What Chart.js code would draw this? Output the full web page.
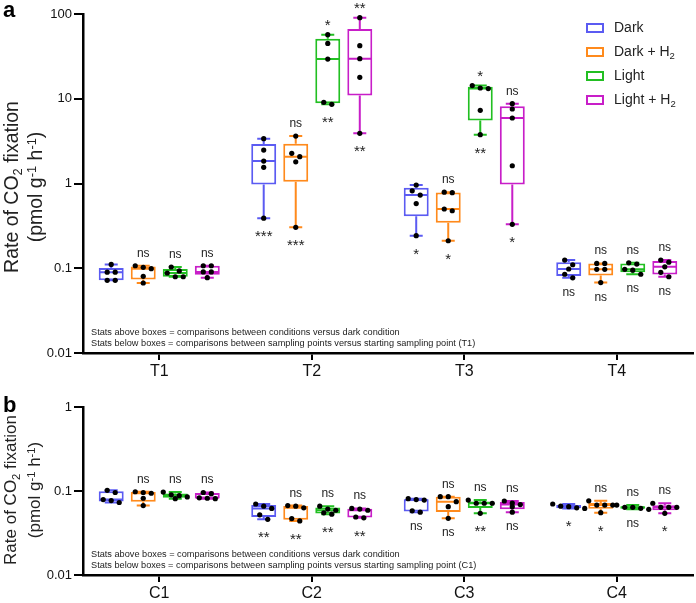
<!DOCTYPE html>
<html><head><meta charset="utf-8">
<script src="https://cdn.jsdelivr.net/npm/chart.js@4/dist/chart.umd.min.js"></script>
<style>
html,body{margin:0;padding:0;background:#fff;width:696px;height:603px;overflow:hidden}
canvas{position:absolute;left:0}
#ca{top:0}#cb{top:380px}
</style></head>
<body>
<canvas id="ca" width="696" height="380"></canvas>
<canvas id="cb" width="696" height="223"></canvas>
<script>
const FONT = "'Liberation Sans', Arial, sans-serif";
const seriesNames = ['Dark', 'Dark + H2', 'Light', 'Light + H2'];
const seriesColors = ['#5b5bf2', '#ff8a1c', '#22bf22', '#c81ec8'];
const timePoints = ['T1', 'T2', 'T3', 'T4'];
const cyclePoints = ['C1', 'C2', 'C3', 'C4'];
const yTicksA = [0.01, 0.1, 1, 10, 100];
const yTicksB = [0.01, 0.1, 1];

// Panel a: individual replicate values per sampling point [T1, T2, T3, T4]
const darkA    = [[0.111,0.090,0.090,0.072,0.072],[3.38,2.48,1.84,1.55,0.39],[0.96,0.82,0.73,0.58,0.242],[0.125,0.110,0.098,0.085,0.077]];
const darkH2A  = [[0.107,0.1025,0.0989,0.0804,0.067],[3.63,2.27,2.07,1.80,0.304],[0.79,0.78,0.50,0.477,0.211],[0.114,0.114,0.097,0.097,0.0677]];
const lightA   = [[0.1035,0.093,0.0879,0.0794,0.0794],[57,45,29.4,9.08,8.6],[14.3,13.4,13.2,7.31,3.77],[0.116,0.112,0.097,0.095,0.085]];
const lightH2A = [[0.107,0.107,0.0904,0.0904,0.0774],[90.4,42.3,29.7,17.9,3.91],[8.75,7.57,5.93,1.62,0.33],[0.125,0.118,0.104,0.0896,0.0794]];

// Panel b: [C1, C2, C3, C4]
const darkB    = [[0.102,0.096,0.079,0.077,0.073],[0.070,0.066,0.062,0.052,0.046],[0.081,0.079,0.078,0.058,0.056],[0.070,0.066,0.065,0.063,0.062]];
const darkH2B  = [[0.098,0.096,0.094,0.082,0.067],[0.067,0.066,0.063,0.047,0.044],[0.0855,0.0855,0.0747,0.065,0.0473],[0.0763,0.068,0.068,0.068,0.0552]];
const lightB   = [[0.097,0.090,0.088,0.085,0.081],[0.066,0.061,0.059,0.055,0.053],[0.078,0.0715,0.0715,0.0715,0.0543],[0.068,0.0639,0.0639,0.0622,0.0605]];
const lightH2B = [[0.096,0.093,0.083,0.082,0.081],[0.062,0.061,0.059,0.049,0.048],[0.076,0.072,0.069,0.065,0.056],[0.0715,0.0639,0.0639,0.0639,0.0543]];

// Significance labels (above: vs dark condition; below: vs starting point)
const aboveA = [['','','',''],['ns','ns','ns','ns'],['ns','*','*','ns'],['ns','**','ns','ns']];
const belowA = [['','***','*','ns'],['','***','*','ns'],['','**','**','ns'],['','**','*','ns']];
const aboveB = [['','','',''],['ns','ns','ns','ns'],['ns','ns','ns','ns'],['ns','ns','ns','ns']];
const belowB = [['','**','ns','*'],['','**','ns','*'],['','**','**','ns'],['','**','ns','*']];

const notesA = ['Stats above boxes = comparisons between conditions versus dark condition',
                'Stats below boxes = comparisons between sampling points versus starting sampling point (T1)'];
const notesB = ['Stats above boxes = comparisons between conditions versus dark condition',
                'Stats below boxes = comparisons between sampling points versus starting sampling point (C1)'];

function quant(s, p) {
  const n = s.length, pos = (n + 1) * p;
  if (pos <= 1) return s[0];
  if (pos >= n) return s[n - 1];
  const lo = Math.floor(pos), f = pos - lo;
  return s[lo - 1] + f * (s[lo] - s[lo - 1]);
}
function boxStats(pts) {
  const s = [...pts].sort((a, b) => a - b);
  return { min: s[0], max: s[s.length - 1], q1: quant(s, 0.25), med: quant(s, 0.5), q3: quant(s, 0.75), pts: s };
}

function drawRich(ctx, segs, size) {
  // segs: [text, mode] mode 0 normal, -1 subscript, 1 superscript
  const parts = segs.map(([t, m]) => {
    const fs = m === 0 ? size : size * 0.66;
    ctx.font = fs + 'px ' + FONT;
    return { t, m, fs, w: ctx.measureText(t).width };
  });
  const total = parts.reduce((a, p) => a + p.w, 0);
  let x = -total / 2;
  parts.forEach(p => {
    ctx.font = p.fs + 'px ' + FONT;
    const dy = p.m === -1 ? size * 0.22 : (p.m === 1 ? -size * 0.30 : 0);
    ctx.fillText(p.t, x, dy);
    x += p.w;
  });
  return total;
}

const boxPlugin = {
  id: 'boxes',
  afterDraw(chart) {
    const ctx = chart.ctx, ys = chart.scales.y, ca = chart.chartArea;
    const ex = chart.options.plugins.boxes;
    ctx.save();
    chart.data.datasets.forEach((ds, d) => {
      const meta = chart.getDatasetMeta(d);
      meta.data.forEach((bar, i) => {
        const s = ds.stats[i];
        const x = bar.x, w = bar.width, cap = 6.5;
        const yq1 = ys.getPixelForValue(s.q1), yq3 = ys.getPixelForValue(s.q3);
        const ymin = ys.getPixelForValue(s.min), ymax = ys.getPixelForValue(s.max);
        const ymed = ys.getPixelForValue(s.med);
        ctx.strokeStyle = ds.borderColor; ctx.lineWidth = 2;
        ctx.beginPath();
        if (ymax < yq3 - 1) { ctx.moveTo(x, yq3); ctx.lineTo(x, ymax); }
        ctx.moveTo(x - cap, ymax); ctx.lineTo(x + cap, ymax);
        if (ymin > yq1 + 1) { ctx.moveTo(x, yq1); ctx.lineTo(x, ymin); }
        ctx.moveTo(x - cap, ymin); ctx.lineTo(x + cap, ymin);
        ctx.moveTo(x - w / 2 + 1, ymed); ctx.lineTo(x + w / 2 - 1, ymed);
        ctx.stroke();
        // dots with horizontal spreading of overlapping values
        const py = s.pts.map(v => ys.getPixelForValue(v)).sort((a, b) => a - b);
        const clusters = [];
        py.forEach(p => {
          const c = clusters[clusters.length - 1];
          if (c && p - c[0] < 5) c.push(p); else clusters.push([p]);
        });
        ctx.fillStyle = '#000';
        clusters.forEach(c => {
          c.forEach((p, k) => {
            const dx = (k - (c.length - 1) / 2) * 8;
            ctx.beginPath(); ctx.arc(x + dx, p, 2.6, 0, Math.PI * 2); ctx.fill();
          });
        });
        // significance labels
        ctx.fillStyle = '#222'; ctx.textAlign = 'center'; ctx.textBaseline = 'alphabetic';
        const lab = (t, yy, up) => {
          if (!t) return;
          const star = t[0] === '*';
          ctx.font = (star ? '15px ' : '12px ') + FONT;
          const by = up ? (star ? yy - 5 : yy - 9) : (star ? yy + 23 : yy + 18);
          ctx.fillText(t, x, by);
        };
        lab(ds.above[i], ymax, true);
        lab(ds.below[i], ymin, false);
      });
    });
    // notes
    ctx.fillStyle = '#222'; ctx.textAlign = 'left'; ctx.textBaseline = 'alphabetic';
    ctx.font = '9.2px ' + FONT;
    ctx.fillText(ex.notes[0], ca.left + 8, ca.bottom - 18.5);
    ctx.fillText(ex.notes[1], ca.left + 8, ca.bottom - 7.5);
    // y title
    ctx.fillStyle = '#222';
    ctx.save();
    ctx.translate(ex.titleX[0], ex.titleY); ctx.rotate(-Math.PI / 2);
    ctx.textAlign = 'left'; ctx.textBaseline = 'alphabetic';
    drawRich(ctx, [['Rate of CO', 0], ['2', -1], [' fixation', 0]], ex.titleSize);
    ctx.restore();
    ctx.save();
    ctx.translate(ex.titleX[1], ex.titleY); ctx.rotate(-Math.PI / 2);
    ctx.textAlign = 'left'; ctx.textBaseline = 'alphabetic';
    drawRich(ctx, [['(pmol g', 0], ['-1', 1], [' h', 0], ['-1', 1], [')', 0]], ex.titleSize);
    ctx.restore();
    // panel letter
    ctx.fillStyle = '#000'; ctx.font = 'bold 22px ' + FONT; ctx.textAlign = 'left';
    ctx.fillText(ex.letter, 3, ex.letterY);
    // legend
    if (ex.legend) {
      chart.data.datasets.forEach((ds, d) => {
        const ly = 28 + d * 24;
        ctx.strokeStyle = ds.borderColor; ctx.lineWidth = 2;
        ctx.strokeRect(587, ly - 4, 16, 8);
        ctx.fillStyle = '#222'; ctx.textBaseline = 'middle'; ctx.textAlign = 'left';
        const name = seriesNames[d];
        const m = name.match(/^(.*)H2$/);
        ctx.font = '14px ' + FONT;
        if (m) {
          ctx.fillText(m[1] + 'H', 614, ly);
          const w = ctx.measureText(m[1] + 'H').width;
          ctx.font = '9.5px ' + FONT;
          ctx.fillText('2', 614 + w, ly + 4);
        } else ctx.fillText(name, 614, ly);
      });
    }
    ctx.restore();
  }
};

function build(id, cats, series, above, below, yTicks, yMax, padTop, xHeight, extra) {
  const datasets = series.map((ser, d) => {
    const st = ser.map(boxStats);
    return {
      label: seriesNames[d], data: st.map(s => [s.q1, s.q3]), stats: st,
      above: above[d], below: below[d],
      backgroundColor: '#fff', borderColor: seriesColors[d], borderWidth: 2, borderSkipped: false,
      categoryPercentage: 0.84, barPercentage: 0.78
    };
  });
  return new Chart(document.getElementById(id), {
    type: 'bar',
    data: { labels: cats, datasets },
    plugins: [boxPlugin],
    options: {
      responsive: false, animation: false, devicePixelRatio: 1,
      layout: { padding: { top: padTop, right: 3, left: 0, bottom: 0 } },
      plugins: { legend: { display: false }, tooltip: { enabled: false }, boxes: extra },
      scales: {
        x: {
          type: 'category', offset: true,
          grid: { display: true, drawOnChartArea: false, drawTicks: true, tickLength: 7, offset: false, color: '#000', lineWidth: 2 },
          border: { display: true, color: '#000', width: 2.5 },
          ticks: { color: '#111', font: { family: FONT, size: 16 }, padding: 2, maxRotation: 0 },
          afterFit: s => { s.height = xHeight; }
        },
        y: {
          type: 'logarithmic', min: 0.01, max: yMax,
          afterBuildTicks: s => { s.ticks = yTicks.map(v => ({ value: v })); },
          ticks: { color: '#111', font: { family: FONT, size: 13 }, padding: 2, callback: v => String(v) },
          grid: { display: true, drawOnChartArea: false, drawTicks: true, tickLength: 9, color: '#000', lineWidth: 2 },
          border: { display: true, color: '#000', width: 2.5 },
          afterFit: s => { s.width = 83; }
        }
      }
    }
  });
}

build('ca', timePoints, [darkA, darkH2A, lightA, lightH2A], aboveA, belowA, yTicksA, 100, 14, 27,
  { notes: notesA, titleY: 187, titleX: [17.5, 42], titleSize: 19.5, letter: 'a', letterY: 17, legend: true });
build('cb', cyclePoints, [darkB, darkH2B, lightB, lightH2B], aboveB, belowB, yTicksB, 1, 27, 28,
  { notes: notesB, titleY: 110, titleX: [16, 40], titleSize: 17, letter: 'b', letterY: 32, legend: false });
</script>
</body></html>
